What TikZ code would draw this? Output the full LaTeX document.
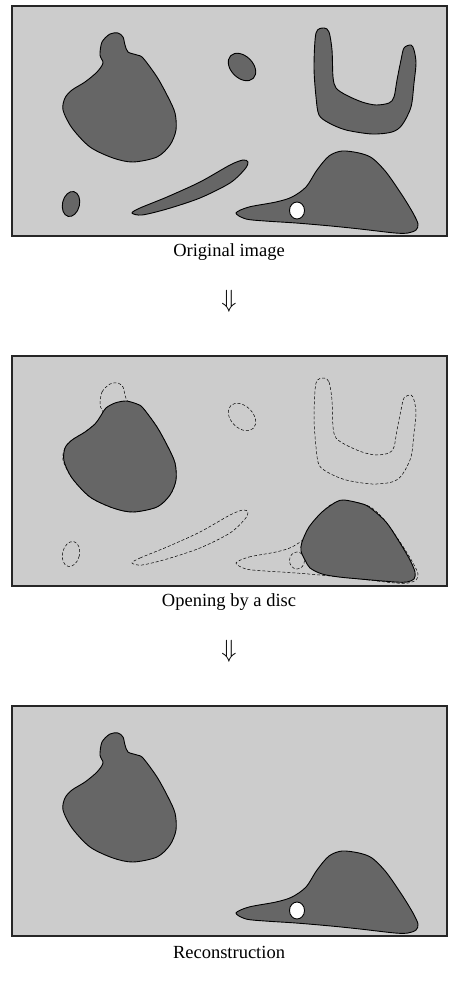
\documentclass[tikz,border=0pt]{standalone}
\usepackage{fontspec}
\setmainfont{Liberation Serif}
\definecolor{bgray}{HTML}{CCCCCC}
\definecolor{dgray}{HTML}{666666}
\begin{document}
\begin{tikzpicture}[x=1pt,y=-1pt,
  panel/.style={fill=bgray,draw=black!85,line width=1.3pt},
  blob/.style={fill=dgray,draw=black,line width=0.9pt},
  holestyle/.style={fill=white,draw=black,line width=0.9pt},
  ghost/.style={draw=black,line width=0.5pt,dash pattern=on 3pt off 2pt},
  lab/.style={font=\fontsize{18.5}{22}\selectfont,inner sep=0pt},
  arr/.style={font=\fontsize{28}{32}\selectfont,inner sep=0pt}]
\useasboundingbox (0,0) rectangle (459,992);
\def\shA{plot[smooth cycle] coordinates {(100,55) (102,42) (110,34) (118,33) (123,37) (125,45) (128,52) (137,55) (143,58) (157,77) (168,97) (175,113) (176,130) (170,145) (157,157) (133,162) (113,158) (90,147) (72,128) (63,110) (65,98) (72,90) (85,82) (97,72) (103,63)}}
\def\shAo{plot[smooth cycle] coordinates {(100,67) (106,58) (115,53) (126,51) (137,54) (143,58) (157,77) (168,97) (175,113) (176,130) (170,145) (157,157) (133,162) (113,158) (90,147) (72,128) (64,111) (65,98) (72,90) (85,82) (95,74)}}
\def\shD{plot[smooth cycle] coordinates {(132,213) (140,208) (167,197) (200,182) (230,165) (243,160) (248,162) (245,169) (230,183) (200,198) (167,209) (142,215)}}
\def\shE{plot[smooth cycle] coordinates {(324,28) (329,32) (332,50) (333,77) (336,88) (346,95) (362,102) (376,105) (389,103) (394,97) (397,80) (401,60) (404,48) (411,45) (414,50) (416,63) (414,83) (411,107) (402,125) (392,132) (372,134) (346,130) (329,123) (319,115) (316,97) (314,67) (316,33)}}
\def\shF{plot[smooth cycle] coordinates {(236,213) (249,207) (276,202) (292,197) (306,187) (317,170) (329,156) (342,151) (359,153) (372,158) (386,172) (402,195) (413,213) (418,224) (416,230) (408,233) (395,233) (360,229) (331,226) (296,223) (265,221) (246,219)}}
\def\shFo{plot[smooth cycle] coordinates {(302,192) (309,177) (322,162) (336,152) (344,150) (359,153) (369,157) (386,172) (400,193) (410,210) (415,222) (414,229) (407,232) (395,232) (360,229) (339,227) (322,224) (310,218) (305,210) (301,201)}}
\def\hole{(297,210.5) ellipse [x radius=7.5,y radius=8.5]}
% panel 1
\draw[panel] (12,6) rectangle (447,236);
\draw[blob] \shA;
\draw[blob,rotate around={-45:(242,67)}] (242,67) ellipse [x radius=16,y radius=11];
\draw[blob,rotate around={-13:(71,204)}] (71,204) ellipse [x radius=8.5,y radius=12.7];
\draw[blob] \shD;
\draw[blob] \shE;
\draw[blob] \shF;
\draw[holestyle] \hole;
\node[lab] (lab1) at (229,252) {Original image};
\node[arr] (arr1) at (229,301) {$\Downarrow$};
% panel 2
\begin{scope}[shift={(0,350)}]
\draw[panel] (12,6) rectangle (447,236);
\draw[ghost] \shA;
\draw[ghost,rotate around={-45:(242,67)}] (242,67) ellipse [x radius=16,y radius=11];
\draw[ghost,rotate around={-13:(71,204)}] (71,204) ellipse [x radius=8.5,y radius=12.7];
\draw[ghost] \shD;
\draw[ghost] \shE;
\draw[ghost] \shF;
\draw[ghost] \hole;
\draw[blob] \shAo;
\draw[blob] \shFo;
\node[lab] (lab2) at (229,252) {Opening by a disc};
\node[arr] (arr2) at (229,301) {$\Downarrow$};
\end{scope}
% panel 3
\begin{scope}[shift={(0,700)}]
\draw[panel] (12,6) rectangle (447,236);
\draw[blob] \shA;
\draw[blob] \shF;
\draw[holestyle] \hole;
\node[lab] (lab3) at (229,252) {Reconstruction};
\end{scope}
\end{tikzpicture}
\end{document}
